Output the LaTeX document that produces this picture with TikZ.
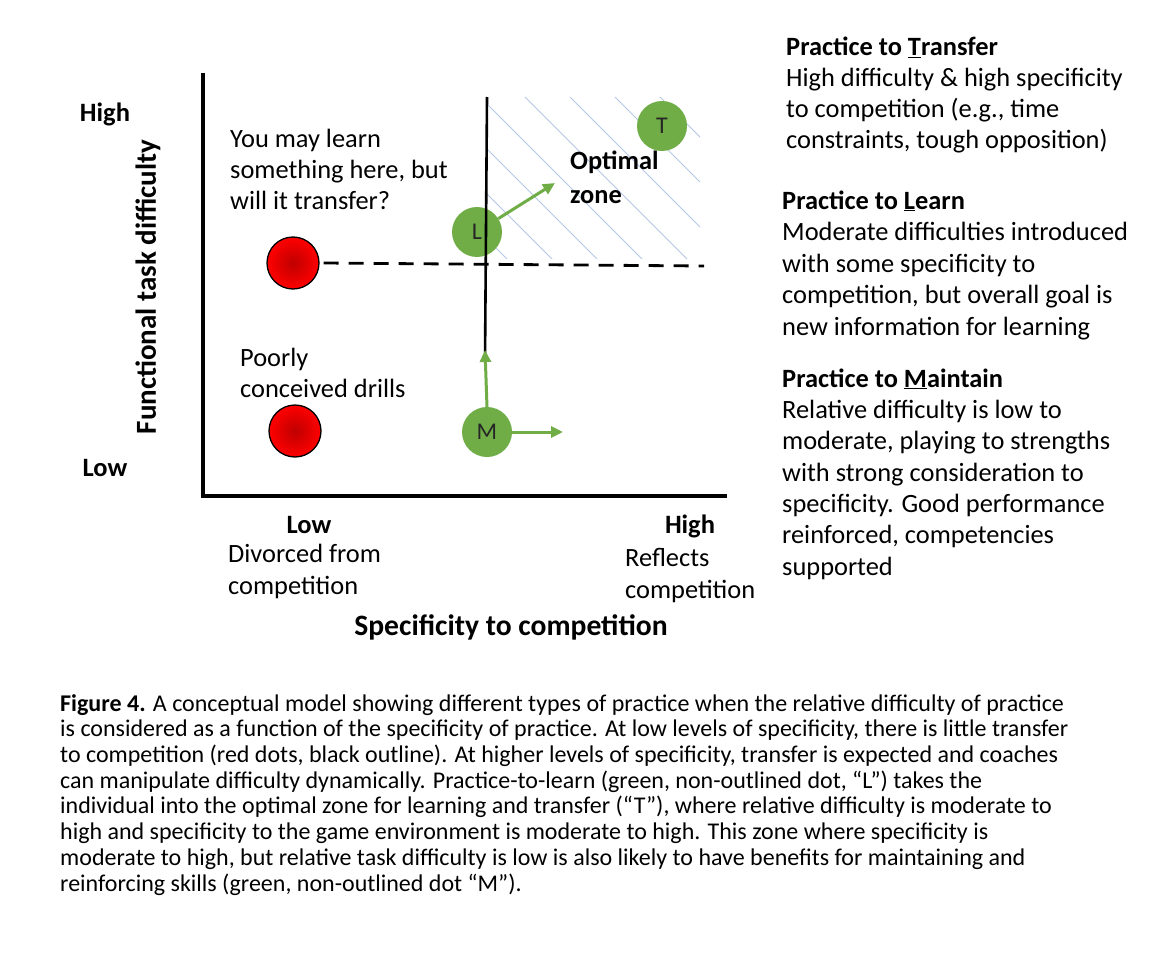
\documentclass[tikz,border=0pt]{standalone}
\usepackage{fontspec}
\setmainfont{Carlito}
\usepackage{tikz}
\usetikzlibrary{positioning,arrows.meta}

\definecolor{dotgreen}{HTML}{70AD47}
\definecolor{hatchblue}{HTML}{B4C7E7}
\tikzset{
  reddot/.style={circle,draw=black,line width=1.3pt,minimum size=52pt,inner sep=0pt,
    inner color=red!75!black,outer color=red},
  greendot/.style={circle,fill=dotgreen,minimum size=50pt,inner sep=0pt,
    font=\fontsize{24}{28}\selectfont,text=black!85},
  greenarrow/.style={-{Triangle[length=12pt,width=11pt]},draw=dotgreen,line width=3pt},
  lbl/.style={anchor=base west,align=left,inner sep=0pt,font=\fontsize{26.4}{31}\selectfont},
  boldlbl/.style={anchor=base,inner sep=0pt,font=\fontsize{26.5}{31}\selectfont\bfseries}
}

\begin{document}
\begin{tikzpicture}[x=1pt,y=-1pt]
            \useasboundingbox[fill=white] (0,0) rectangle (1170,963);
            % optimal zone hatching
            \begin{scope}
              \clip (487,97) rectangle (700,258);
              \foreach \s in {300,345,...,700}
                \draw[hatchblue,line width=0.8pt] (\s,97) -- ++(200,200);
            \end{scope}
            % axes
            \coordinate (ytop) at (203,73);
            \coordinate (orig) at (203,496);
            \coordinate (xend) at (727,496);
            \draw[line width=3.5pt] (ytop) -- (orig) -- (xend);
            \node[boldlbl] (yhigh) at (105,122) {High};
            \node[boldlbl] (ylow) at (105,476) {Low};
            \node[inner sep=0pt,rotate=90,font=\fontsize{29}{34}\selectfont\bfseries] (ylab) at (148,287) {Functional task difficulty};
            \node[boldlbl] (xlow) at (309,533) {Low};
            \node[boldlbl] (xhigh) at (690,533) {High};
            \node[lbl,font=\fontsize{26.4}{32}\selectfont] (divorced) at (228,594) {Divorced from\\competition};
            \node[lbl,font=\fontsize{26.4}{32}\selectfont] (reflects) at (625,598) {Reflects\\competition};
            \node[inner sep=0pt,anchor=base,font=\fontsize{29.6}{34}\selectfont\bfseries] (xlab) at (511,635) {Specificity to competition};
            % quadrant texts
            \node[lbl] (learnq) at (230,209) {You may learn\\something here, but\\will it transfer?};
            \node[lbl,font=\fontsize{26.4}{33}\selectfont\bfseries] (optimal) at (570,203) {Optimal\\zone};
            \node[lbl] (poorly) at (240,397) {Poorly\\conceived drills};
            % dots
            \node[reddot] (redhi) at (293,263) {};
            \node[reddot] (redlo) at (295,431) {};
            \node[greendot] (L) at (477,232) {L};
            \node[greendot] (T) at (662,126) {T};
            \node[greendot] (M) at (487,432) {M};
            % dividing lines
            \coordinate (dashend) at (704,266);
            \coordinate (vtop) at (487,97);
            \coordinate (vbot) at (485,362);
            \draw[line width=2.8pt,dash pattern=on 15pt off 10pt] (redhi.east) ++(4,0) -- (dashend);
            \draw[line width=2.6pt] (vtop) -- (vbot);
            % moves
            \coordinate (Lto) at (555,183);
            \coordinate (Mup) at (485,350);
            \coordinate (Mright) at (563,432);
            \draw[greenarrow] (L) -- (Lto);
            \draw[greenarrow] (M.north) -- (Mup);
            \draw[greenarrow] (M.east) -- (Mright);
            % right column
            \node[lbl] (transfer) at (786,149) {\textbf{Practice to \underline{T}ransfer}\\High difficulty \& high specificity\\to competition (e.g., time\\constraints, tough opposition)};
            \node[lbl,font=\fontsize{26.4}{31.5}\selectfont] (learn) at (782,335) {\textbf{Practice to \underline{L}earn}\\Moderate difficulties introduced\\with some specificity to\\competition, but overall goal is\\new information for learning};
            \node[lbl,font=\fontsize{26.4}{31.3}\selectfont] (maintain) at (782,575) {\textbf{Practice to \underline{M}aintain}\\Relative difficulty is low to\\moderate, playing to strengths\\with strong consideration to\\specificity. Good performance\\reinforced, competencies\\supported};
            % caption
            \node[lbl,font=\fontsize{24}{25.7}\selectfont] (caption) at (60,891) {\textbf{Figure 4.} A conceptual model showing different types of practice when the relative difficulty of practice\\is considered as a function of the specificity of practice. At low levels of specificity, there is little transfer\\to competition (red dots, black outline). At higher levels of specificity, transfer is expected and coaches\\can manipulate difficulty dynamically. Practice-to-learn (green, non-outlined dot, “L”) takes the\\individual into the optimal zone for learning and transfer (“T”), where relative difficulty is moderate to\\high and specificity to the game environment is moderate to high. This zone where specificity is\\moderate to high, but relative task difficulty is low is also likely to have benefits for maintaining and\\reinforcing skills (green, non-outlined dot “M”).};
        \end{tikzpicture}
\end{document}
